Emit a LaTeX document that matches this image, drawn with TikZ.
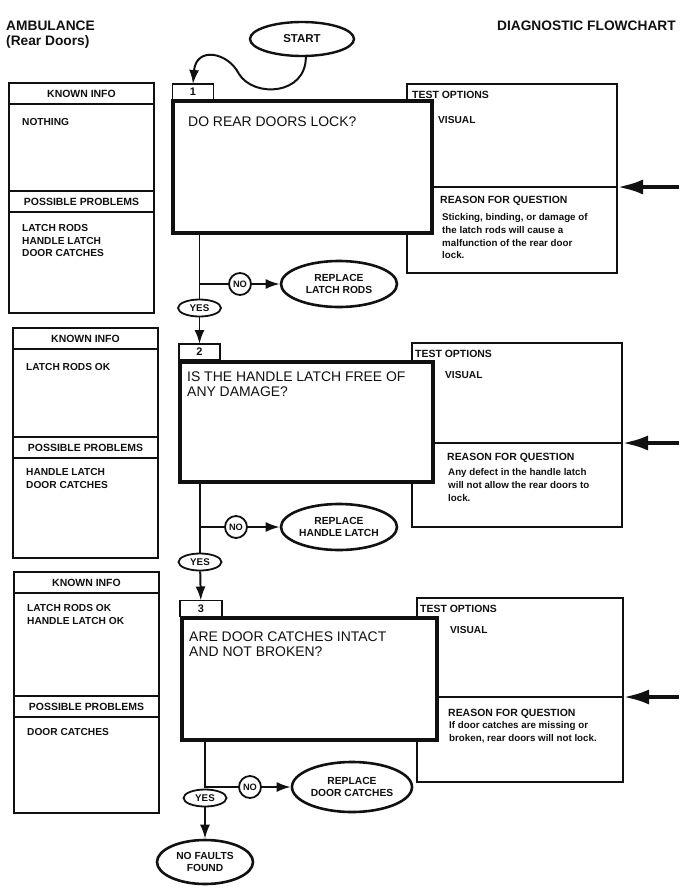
\documentclass[tikz,border=0pt]{standalone}
\usepackage{fontspec}
\setmainfont{Liberation Sans}
\usetikzlibrary{arrows.meta,shapes.geometric,calc}
\definecolor{ink}{HTML}{111111}
\tikzset{
  >=Latex,
  every node/.style={text=ink},
  headline/.style={inner sep=0pt,align=left,font=\fontsize{13.8}{15.2}\selectfont\bfseries},
  infobox/.style={draw=ink,line width=1.6pt,minimum width=145bp,anchor=north west,inner sep=0pt,outer sep=0pt},
  headbox/.style={infobox,minimum height=21bp,font=\fontsize{10.5}{12}\selectfont\bfseries},
  listtext/.style={anchor=north west,inner sep=0pt,align=left,font=\fontsize{10.2}{12.5}\selectfont\bfseries},
  smallhead/.style={anchor=north west,inner sep=0pt,font=\fontsize{10.5}{12}\selectfont\bfseries},
  reasontext/.style={anchor=north west,inner sep=0pt,align=left,font=\fontsize{9.8}{12.7}\selectfont\bfseries},
  testbox/.style={draw=ink,line width=1.6pt,anchor=north west,inner sep=0pt,outer sep=0pt},
  tabbox/.style={draw=ink,line width=1.6pt,fill=white,minimum width=41bp,minimum height=16bp,inner sep=0pt,outer sep=0pt,font=\fontsize{11}{12}\selectfont\bfseries},
  qbox/.style={draw=ink,line width=4.5pt,fill=white,anchor=north west,inner sep=0pt,outer sep=0pt},
  qtext/.style={anchor=north west,inner sep=0pt,align=left,font=\fontsize{14}{15}\selectfont},
  startnode/.style={ellipse,draw=ink,line width=2.4pt,fill=white,minimum width=104bp,minimum height=34bp,inner sep=0pt,font=\fontsize{11.5}{13}\selectfont\bfseries},
  outnode/.style={ellipse,draw=ink,line width=2.6pt,fill=white,minimum width=116bp,minimum height=46bp,inner sep=0pt,align=center,font=\fontsize{10.3}{12.5}\selectfont\bfseries},
  yesnode/.style={ellipse,draw=ink,line width=1.8pt,fill=white,minimum width=43bp,minimum height=17bp,inner sep=0pt,font=\fontsize{9.8}{11}\selectfont\bfseries},
  nonode/.style={circle,draw=ink,line width=1.8pt,fill=white,minimum size=22bp,inner sep=0pt,font=\fontsize{9.3}{11}\selectfont\bfseries},
  flow/.style={draw=ink,line width=2pt},
  flowarrow/.style={flow,-{Latex[length=14bp,width=10bp]}},
  bigarrow/.style={draw=ink,line width=4.2pt,-{Latex[length=26bp,width=15bp]}},
  divider/.style={draw=ink,line width=1.8pt},
}

\begin{document}
\begin{tikzpicture}[x=1bp,y=-1bp]

\fill[white] (0,0) rectangle (692,896);
\useasboundingbox (0,0) rectangle (692,896);

\node[headline,anchor=north west] (ambulance) at (6,21) {AMBULANCE\\(Rear Doors)};
\node[headline,anchor=north east] (chart) at (676,21) {DIAGNOSTIC FLOWCHART};

\node[startnode] (start) at (302,39) {START};

\node[infobox,minimum height=230bp] (info1) at (9,83) {};
\node[headbox] (known1) at (info1.north west) {KNOWN INFO};
\node[headbox] (probs1) at (9,191) {POSSIBLE PROBLEMS};
\node[listtext] (facts1) at (22,118.5) {NOTHING};
\node[listtext] (causes1) at (22,224.5) {LATCH RODS\\HANDLE LATCH\\DOOR CATCHES};

\node[testbox,minimum width=210bp,minimum height=189bp] (test1) at (407,84) {};
\node[tabbox] (tab1) at (193,92) {1};
\node[qbox,minimum width=259bp,minimum height=132bp] (q1) at (173,101) {};
\node[qtext] (ask1) at (188,117) {DO REAR DOORS LOCK?};
\node[smallhead] (opt1) at (412,91) {TEST OPTIONS};
\node[listtext] (vis1) at (438,116.5) {VISUAL};
\node[smallhead] (why1) at (440,195.5) {REASON FOR QUESTION};
\node[reasontext] (because1) at (442,213.5) {Sticking, binding, or damage of\\the latch rods will cause a\\malfunction of the rear door\\lock.};
\coordinate (in1) at (679,187);
\draw[divider] (q1.east |- in1) -- (test1.east |- in1);
\draw[bigarrow] (in1) -- (test1.east |- in1);

\node[infobox,minimum height=230bp] (info2) at (13,328) {};
\node[headbox] (known2) at (info2.north west) {KNOWN INFO};
\node[headbox] (probs2) at (13,437) {POSSIBLE PROBLEMS};
\node[listtext] (facts2) at (26,363.5) {LATCH RODS OK};
\node[listtext] (causes2) at (26,468.5) {HANDLE LATCH\\DOOR CATCHES};

\node[testbox,minimum width=210bp,minimum height=184bp] (test2) at (412,343) {};
\node[tabbox] (tab2) at (199.5,352) {2};
\node[qbox,minimum width=253bp,minimum height=120bp] (q2) at (180,362) {};
\node[qtext] (ask2) at (187,372) {IS THE HANDLE LATCH FREE OF\\ANY DAMAGE?};
\node[smallhead] (opt2) at (415,350) {TEST OPTIONS};
\node[listtext] (vis2) at (445,371.5) {VISUAL};
\node[smallhead] (why2) at (447,452.5) {REASON FOR QUESTION};
\node[reasontext] (because2) at (448,468.5) {Any defect in the handle latch\\will not allow the rear doors to\\lock.};
\coordinate (in2) at (679,443);
\draw[divider] (q2.east |- in2) -- (test2.east |- in2);
\draw[bigarrow] (in2) -- (test2.east |- in2);

\node[infobox,minimum height=241bp] (info3) at (14,572) {};
\node[headbox] (known3) at (info3.north west) {KNOWN INFO};
\node[headbox] (probs3) at (14,696) {POSSIBLE PROBLEMS};
\node[listtext] (facts3) at (27,604.5) {LATCH RODS OK\\HANDLE LATCH OK};
\node[listtext] (causes3) at (27,728.5) {DOOR CATCHES};

\node[testbox,minimum width=206bp,minimum height=184bp] (test3) at (417,598) {};
\node[tabbox,minimum width=42bp] (tab3) at (201,608.5) {3};
\node[qbox,minimum width=255bp,minimum height=122bp] (q3) at (182,618) {};
\node[qtext] (ask3) at (189,632) {ARE DOOR CATCHES INTACT\\AND NOT BROKEN?};
\node[smallhead] (opt3) at (420,605) {TEST OPTIONS};
\node[listtext] (vis3) at (450,626.5) {VISUAL};
\node[smallhead] (why3) at (448,708.5) {REASON FOR QUESTION};
\node[reasontext] (because3) at (449,721.5) {If door catches are missing or\\broken, rear doors will not lock.};
\coordinate (in3) at (679,697);
\draw[divider] (q3.east |- in3) -- (test3.east |- in3);
\draw[bigarrow] (in3) -- (test3.east |- in3);

\draw[flowarrow] (start.-78) .. controls +(0,38) and (254,98) .. (239,74) .. controls (228,52) and (196,46) .. (tab1.north);

\coordinate (fork1) at (199.5,284);
\node[nonode] (no1) at (240,284) {NO};
\node[outnode] (fix1) at (339,284) {REPLACE\\LATCH RODS};
\draw[flow] (q1.south -| fork1) -- (fork1) -- (no1);
\draw[flowarrow] (no1) -- (fix1);
\node[yesnode] (yes1) at (199.5,308) {YES};
\draw[flow] (fork1) -- (yes1);
\draw[flowarrow] (yes1) -- (tab2);

\coordinate (fork2) at (200,527);
\node[nonode] (no2) at (236,527) {NO};
\node[outnode] (fix2) at (339,527) {REPLACE\\HANDLE LATCH};
\draw[flow] (q2.south -| fork2) -- (fork2) -- (no2);
\draw[flowarrow] (no2) -- (fix2);
\node[yesnode] (yes2) at (200,562) {YES};
\draw[flow] (fork2) -- (yes2);
\draw[flowarrow] (yes2) -- (tab3);

\coordinate (fork3) at (205,787);
\node[nonode] (no3) at (250,787) {NO};
\node[outnode,minimum width=120bp,minimum height=50bp] (fix3) at (352,787) {REPLACE\\DOOR CATCHES};
\draw[flow] (q3.south -| fork3) -- (fork3) -- (no3);
\draw[flowarrow] (no3) -- (fix3);
\node[yesnode] (yes3) at (205,798) {YES};
\node[outnode,minimum width=96bp,minimum height=44bp] (done) at (205,862) {NO FAULTS\\FOUND};
\draw[flowarrow] (yes3) -- (done);

\end{tikzpicture}
\end{document}
